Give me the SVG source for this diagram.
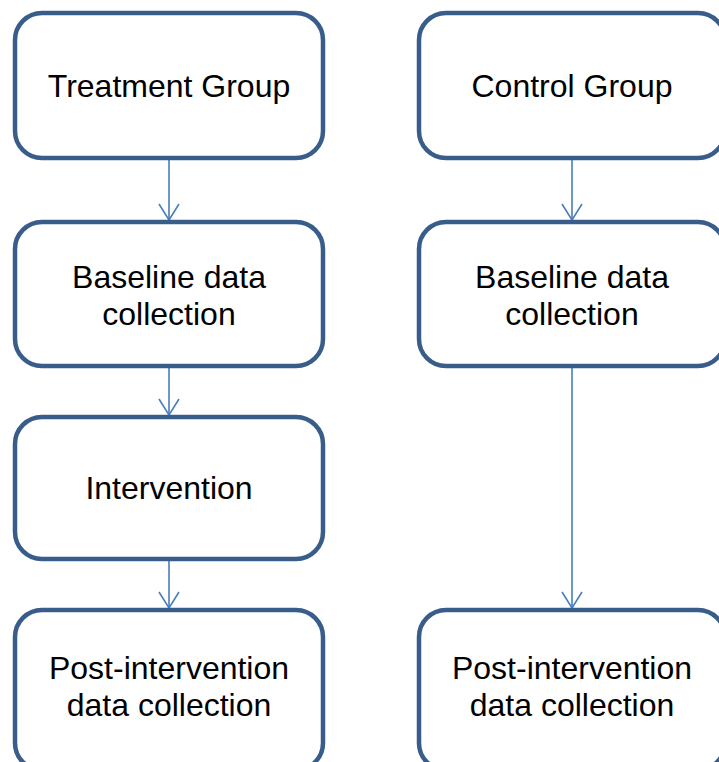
<svg xmlns="http://www.w3.org/2000/svg" width="719" height="762" viewBox="0 0 719 762">
  <defs>
    <!-- open V arrowhead, drawn along +x so orient="auto" points it down the line -->
    <marker id="arrow" viewBox="0 0 18 22" refX="17" refY="11" markerWidth="18" markerHeight="22" markerUnits="userSpaceOnUse" orient="auto">
      <path d="M1,1 L17,11 L1,21" fill="none" stroke="#4a7ebb" stroke-width="1.6"/>
    </marker>
  </defs>
  <style>
    .box { fill: #ffffff; stroke: #385d8a; stroke-width: 4.5; }
    .label { font-family: "Liberation Sans", Arial, sans-serif; font-size: 32px; fill: #000000; text-anchor: middle; }
    .conn { fill: none; stroke: #4a7ebb; stroke-width: 1.6; marker-end: url(#arrow); }
  </style>
  <rect width="719" height="762" fill="#ffffff"/>

  <g id="connectors">
    <path class="conn" d="M169,159 V220"/>
    <path class="conn" d="M169,368 V415"/>
    <path class="conn" d="M169,561 V608"/>
    <path class="conn" d="M572,159 V220"/>
    <path class="conn" d="M572,368 V608"/>
  </g>

  <g id="treatment-group">
    <rect class="box" x="15" y="13" width="308" height="145" rx="27"/>
    <text class="label" x="169" y="97">Treatment Group</text>
  </g>
  <g id="treatment-baseline">
    <rect class="box" x="15" y="222" width="308" height="144" rx="27"/>
    <text class="label" x="169" y="288">Baseline data</text>
    <text class="label" x="169" y="325">collection</text>
  </g>
  <g id="treatment-intervention">
    <rect class="box" x="15" y="417" width="308" height="142" rx="27"/>
    <text class="label" x="169" y="499">Intervention</text>
  </g>
  <g id="treatment-post">
    <rect class="box" x="15" y="610" width="308" height="160" rx="27"/>
    <text class="label" x="169" y="679">Post-intervention</text>
    <text class="label" x="169" y="716">data collection</text>
  </g>

  <g id="control-group">
    <rect class="box" x="419" y="13" width="306" height="145" rx="27"/>
    <text class="label" x="572" y="97">Control Group</text>
  </g>
  <g id="control-baseline">
    <rect class="box" x="419" y="222" width="306" height="144" rx="27"/>
    <text class="label" x="572" y="288">Baseline data</text>
    <text class="label" x="572" y="325">collection</text>
  </g>
  <g id="control-post">
    <rect class="box" x="419" y="610" width="306" height="160" rx="27"/>
    <text class="label" x="572" y="679">Post-intervention</text>
    <text class="label" x="572" y="716">data collection</text>
  </g>
</svg>
